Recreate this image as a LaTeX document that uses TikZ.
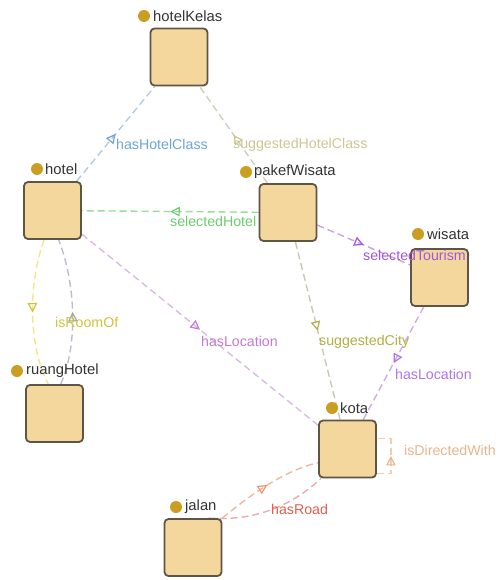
\documentclass[tikz,border=0pt]{standalone}
\usepackage{fontspec}
\setmainfont{Liberation Sans}
\usetikzlibrary{arrows.meta,decorations.markings}
\pgfdeclarelayer{bg}
\pgfsetlayers{bg,main}
\definecolor{boxfill}{HTML}{F4D79C}
\definecolor{boxline}{HTML}{5E5546}
\definecolor{dotc}{HTML}{C99E22}
\definecolor{cHHC}{HTML}{6FA3D8}
\definecolor{lHHC}{HTML}{B2CAE2}
\definecolor{cSHC}{HTML}{C8C894}
\definecolor{lSHC}{HTML}{CFCFBF}
\definecolor{cSH}{HTML}{6DCC6D}
\definecolor{lSH}{HTML}{9ADC9A}
\definecolor{cST}{HTML}{A455E0}
\definecolor{lST}{HTML}{C8A4E2}
\definecolor{cRO}{HTML}{D2C23E}
\definecolor{lRO}{HTML}{F2E58A}
\definecolor{lRO2}{HTML}{BDBDCC}
\definecolor{cHL}{HTML}{C678D6}
\definecolor{lHL}{HTML}{D8BCE2}
\definecolor{cSC}{HTML}{B4AE44}
\definecolor{lSC}{HTML}{CBC9AD}
\definecolor{cHL2}{HTML}{B074E8}
\definecolor{lHL2}{HTML}{CCACEA}
\definecolor{cDW}{HTML}{E8B58C}
\definecolor{lDW}{HTML}{F2CDB0}
\definecolor{cRD}{HTML}{E05E4E}
\definecolor{cRU}{HTML}{EE9270}
\definecolor{lRU}{HTML}{F2B89E}
\definecolor{lRD}{HTML}{EEAAAA}
\begin{document}
\begin{tikzpicture}[x=1pt,y=-1pt,
  cls/.style={draw=boxline, line width=1.8pt, fill=boxfill, rounded corners=4pt, minimum size=57pt, inner sep=0pt},
  nlabel/.style={anchor=west, inner sep=0pt, text=black!80, font=\fontsize{14.8}{16}\selectfont},
  ndot/.style={circle, fill=dotc, minimum size=12pt, inner sep=0pt},
  edgeline/.style={dash pattern=on 7pt off 4pt, line width=1.4pt},
  elabel/.style={anchor=west, inner sep=0pt, font=\fontsize{14.2}{16}\selectfont},
  mid/.style={decoration={markings, mark=at position 0.5 with {\arrow[solid,line width=1.2pt,#1]{Triangle[open,length=9.5pt,width=9.5pt]}}}, postaction={decorate}},
]
\useasboundingbox (0,0) rectangle (503,580);

% class boxes
\node[cls] (hotelKelas) at (179,57) {};
\node[cls] (hotel) at (52.5,210.5) {};
\node[cls] (pakefWisata) at (288,212.5) {};
\node[cls] (wisata) at (439.5,277.5) {};
\node[cls] (ruangHotel) at (54.5,413.5) {};
\node[cls] (kota) at (347.5,449) {};
\node[cls] (jalan) at (193,547.5) {};

% class names
\node[ndot] (dHotelKelas) at (144,16) {};
\node[nlabel] (nHotelKelas) at (153,16) {hotelKelas};
\node[ndot] (dHotel) at (37,169) {};
\node[nlabel] (nHotel) at (45,169) {hotel};
\node[ndot] (dPaket) at (246,172) {};
\node[nlabel] (nPaket) at (254,172) {pakefWisata};
\node[ndot] (dWisata) at (418,234) {};
\node[nlabel] (nWisata) at (427,234) {wisata};
\node[ndot] (dRuang) at (17,371) {};
\node[nlabel] (nRuang) at (26,371) {ruangHotel};
\node[ndot] (dKota) at (332,408) {};
\node[nlabel] (nKota) at (340,408) {kota};
\node[ndot] (dJalan) at (176,507) {};
\node[nlabel] (nJalan) at (185,507) {jalan};

\begin{pgfonlayer}{bg}
  \draw[edgeline, draw=lHHC, mid={color=cHHC}] (hotel) -- (hotelKelas);
  \draw[edgeline, draw=lSHC, mid={color=cSHC}] (pakefWisata) -- (hotelKelas);
  \draw[edgeline, draw=lSH, mid={color=cSH}] (pakefWisata) -- (hotel);
  \node[elabel, text=cSH] (lSelHotel) at (170,221) {selectedHotel};
  \draw[edgeline, draw=lST, mid={color=cST}] (pakefWisata) -- (wisata);
  \draw[edgeline, draw=lHL, mid={color=cHL}] (hotel) -- (kota);
  \draw[edgeline, draw=lSC, mid={color=cSC}] (pakefWisata) -- (kota);
  \draw[edgeline, draw=lHL2, mid={color=cHL2}] (wisata) -- (kota);
  \draw[edgeline, draw=lRO, mid={color=cRO}] (hotel.-106) .. controls (28,285) and (28,345) .. (ruangHotel.102);
  \draw[edgeline, draw=lRO2, mid={color=gray!70}] (ruangHotel.78) .. controls (78,345) and (76,285) .. (hotel.-78);
  \draw[edgeline, draw=lDW, mid={color=cDW}] (kota.-40) -- ++(14,0) |- (kota.20);
  \draw[edgeline, draw=lRU, mid={color=cRU}] (jalan.north east) .. controls (250,495) and (285,470) .. (kota.-155);
  \draw[edgeline, draw=lRD] (jalan.62) .. controls (262,522) and (298,500) .. (kota.-132);
\end{pgfonlayer}

% edge labels
\node[elabel, text=cHHC] (lHasHotelClass) at (116,144) {hasHotelClass};
\node[elabel, text=cSHC] (lSugHotelClass) at (233,145) {suggestedHotelClass};
\node[elabel, text=cST] (lSelTour) at (363,255) {selectedTourism};
\node[elabel, text=cRO] (lRoom) at (55,322) {isRoomOf};
\node[elabel, text=cHL] (lHasLoc) at (201,341) {hasLocation};
\node[elabel, text=cSC] (lSugCity) at (319,342) {suggestedCity};
\node[elabel, text=cHL2] (lHasLoc2) at (395,374) {hasLocation};
\node[elabel, text=cDW] (lDirected) at (404,450) {isDirectedWith};
\node[elabel, text=cRD] (lRoad) at (271,509) {hasRoad};
\end{tikzpicture}
\end{document}
